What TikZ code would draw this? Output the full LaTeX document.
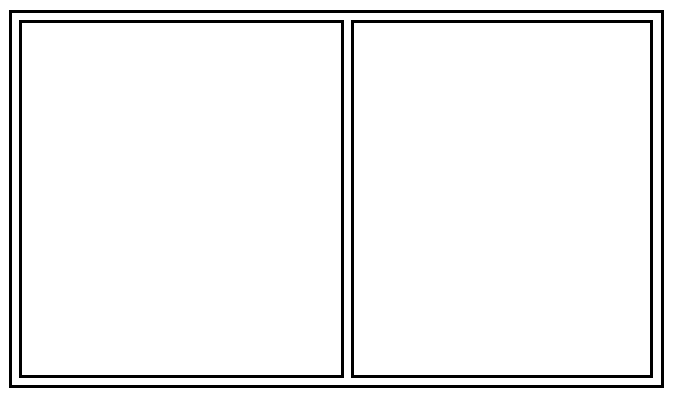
\documentclass[tikz,border=0pt]{standalone}
\begin{document}
\begin{tikzpicture}[x=1pt,y=-1pt,frame/.style={draw=black,line width=3pt,line join=miter}]
\useasboundingbox (0,0) rectangle (681,401);
\fill[white] (0,0) rectangle (681,401);
\draw[frame] (10.5,11.5) rectangle (662.5,386.5);
\draw[frame] (20.5,21.5) rectangle (342.5,376.5);
\draw[frame] (352.5,21.5) rectangle (651.5,376.5);
\end{tikzpicture}
\end{document}
